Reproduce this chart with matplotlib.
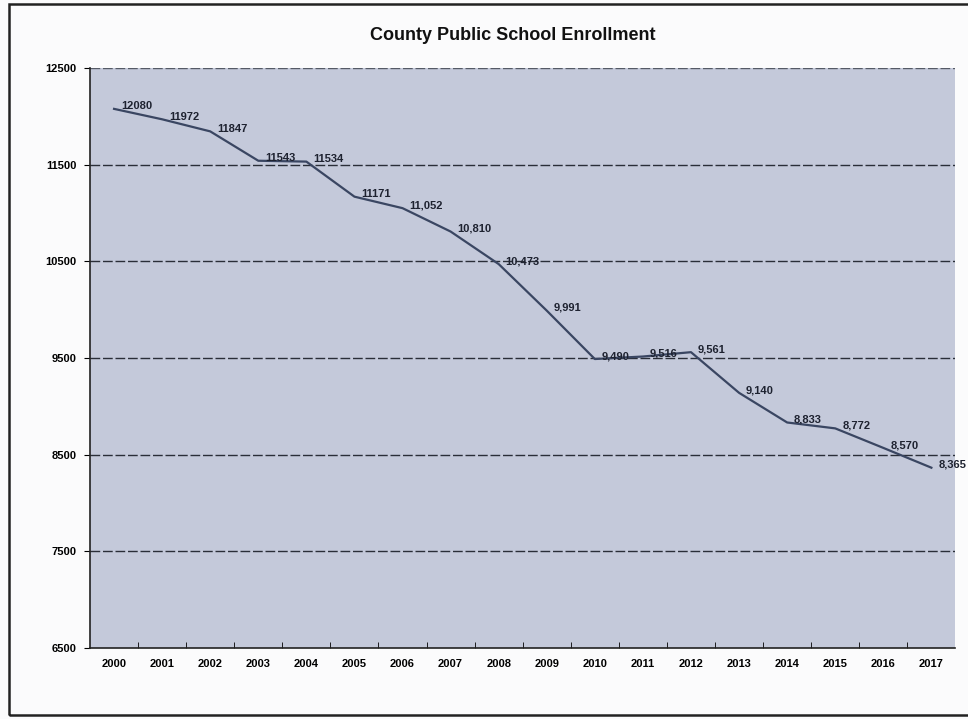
import matplotlib
matplotlib.use('Agg')
import matplotlib.pyplot as plt
from matplotlib.patches import Rectangle

plt.rcParams['font.family'] = ['Liberation Sans', 'DejaVu Sans']

years = ['2000', '2001', '2002', '2003', '2004', '2005', '2006', '2007', '2008',
         '2009', '2010', '2011', '2012', '2013', '2014', '2015', '2016', '2017']
enrollment = [12080, 11972, 11847, 11543, 11534, 11171, 11052, 10810, 10473,
              9991, 9490, 9516, 9561, 9140, 8833, 8772, 8570, 8365]
labels = ['12080', '11972', '11847', '11543', '11534', '11171', '11,052', '10,810', '10,473',
          '9,991', '9,490', '9,516', '9,561', '9,140', '8,833', '8,772', '8,570', '8,365']
yticks = [6500, 7500, 8500, 9500, 10500, 11500, 12500]

fig = plt.figure(figsize=(9.68, 7.19), dpi=100)
fig.patch.set_facecolor('#fbfbfc')
ax = fig.add_axes([0.093, 0.099, 0.894, 0.806])
ax.set_facecolor('#c4c9da')

x = list(range(len(years)))
ax.plot(x, enrollment, color='#3a4662', lw=1.6, zorder=3)
for xi, v, t in zip(x, enrollment, labels):
    ax.annotate(t, (xi, v), xytext=(5, 2), textcoords='offset points',
                fontsize=8, fontweight='bold', color='#1e2230', va='center', ha='left', zorder=4)

ax.set_xlim(-0.5, len(years) - 0.5)
ax.set_ylim(6500, 12500)
ax.set_yticks(yticks)
ax.set_yticklabels([str(t) for t in yticks], fontsize=8, fontweight='bold')
ax.set_xticks(x)
ax.set_xticklabels(years, fontsize=8, fontweight='bold')
ax.tick_params(axis='x', length=0, pad=8)
ax.tick_params(axis='y', length=4, direction='out', pad=6)
ax.set_xticks([i - 0.5 for i in range(1, len(years))], minor=True)
ax.tick_params(axis='x', which='minor', length=4, direction='in')

for g in yticks[1:-1]:
    ax.axhline(g, color='#2a2e38', lw=1.0, ls=(0, (7, 2)), zorder=2)

for s in ['top', 'right']:
    ax.spines[s].set_visible(False)
ax.spines['left'].set_color('#222222')
ax.spines['bottom'].set_color('#222222')
ax.spines['left'].set_linewidth(1.2)
ax.spines['bottom'].set_linewidth(1.2)
ax.axhline(12500, color='#555a66', lw=1.0, ls=(0, (7, 2)), zorder=2)

fig.text(0.53, 0.951, 'County Public School Enrollment', ha='center', va='center',
         fontsize=13, fontweight='bold', color='#111111')

fig.patches.append(Rectangle((0.009, 0.006), 1.2, 0.988, transform=fig.transFigure,
                             fill=False, edgecolor='#222222', lw=1.8))

fig.savefig('out.png', dpi=100)
